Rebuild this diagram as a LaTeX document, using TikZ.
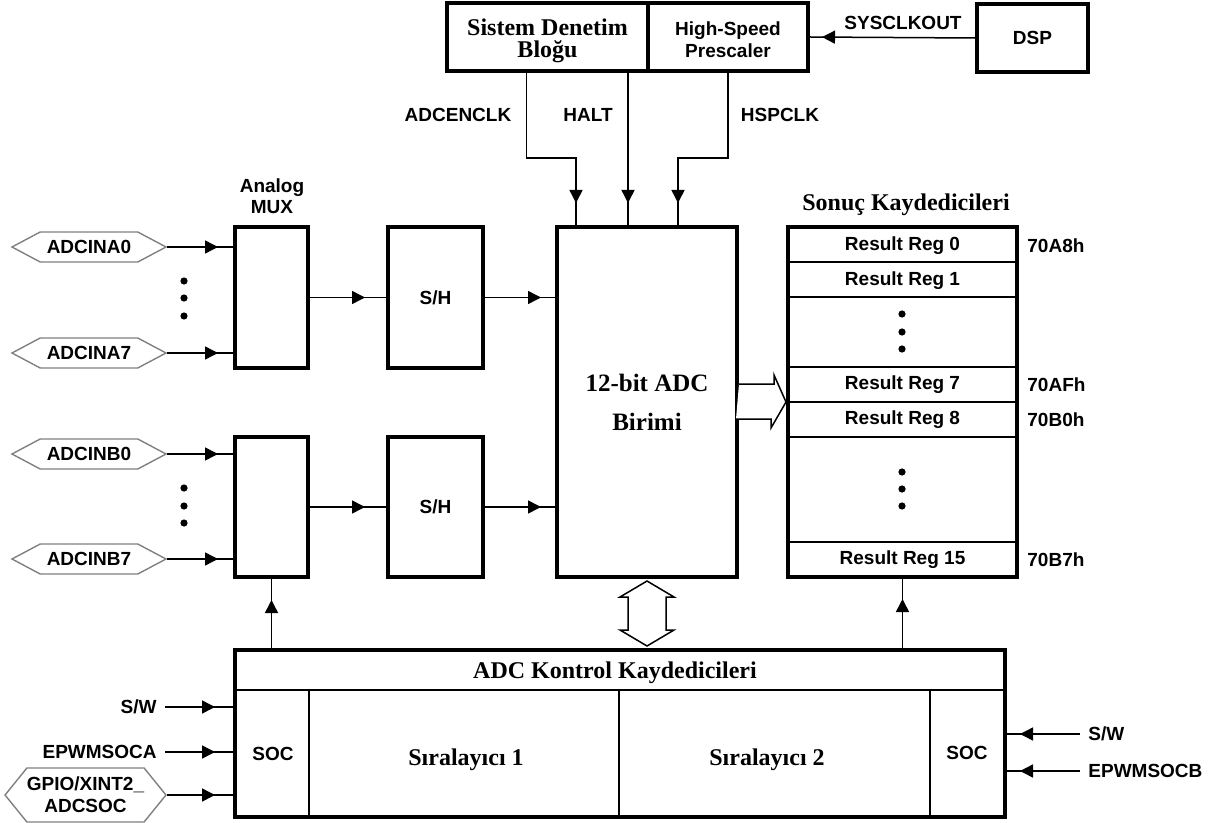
\documentclass[tikz,border=0pt]{standalone}
\usepackage{fontspec}
\setmainfont{Liberation Serif}
\setsansfont{Liberation Sans}
\usetikzlibrary{arrows.meta,positioning,calc,shapes.symbols,decorations.markings}

\begin{document}
\begin{tikzpicture}[x=0.5pt,y=-0.5pt,
  font=\sffamily\bfseries\fontsize{9.5}{11}\selectfont,
  blk/.style={draw, line width=2pt, inner sep=0pt},
  ttl/.style={font=\rmfamily\bfseries\fontsize{12}{11}\selectfont, align=center},
  hexin/.style={draw=gray, line width=0.7pt, signal, signal to=west and east,
    signal pointer angle=56, minimum width=77pt, minimum height=15pt, inner sep=0pt},
  sig/.style={line width=0.75pt, postaction={decorate},
    decoration={markings, mark=at position -#1 with {\arrow{Triangle[length=6.5pt,width=6.5pt]}}}},
  sig/.default=7.5pt,
  hollow/.style={line width=0.75pt, fill=white, line join=miter},
  thinline/.style={line width=0.9pt}]
\useasboundingbox (0,0) rectangle (1219,823);

% top blocks
\node[blk, minimum width=100.5pt, minimum height=34pt] (sdb) at (547.5,37) {};
\node[ttl] (sdbtxt) at (547.5,41) {Sistem Denetim\\Bloğu};
\node[blk, minimum width=80pt, minimum height=34pt] (hsp) at (728,37) {};
\node[align=center] (hsptxt) at (728,40) {High-Speed\\Prescaler};
\node[blk, minimum width=55.5pt, minimum height=34pt] (dsp) at (1032.5,38) {DSP};
\draw[sig=6pt] (dsp.west) -- (hsp.east);
\node (sysclk) at (903,23) {SYSCLKOUT};

% main blocks
\node[blk, minimum width=36.5pt, minimum height=70.5pt] (muxa) at (271.5,297.5) {};
\node[align=center, font=\sffamily\bfseries\fontsize{9.5}{10.5}\selectfont] (muxlbl) at (272,196) {Analog\\MUX};
\node[blk, minimum width=47.5pt, minimum height=70.5pt] (sha) at (435.5,297.5) {S/H};
\node[blk, minimum width=36.5pt, minimum height=70pt] (muxb) at (271.5,507) {};
\node[blk, minimum width=47.5pt, minimum height=70pt] (shb) at (435.5,507) {S/H};
\node[blk, align=center, font=\rmfamily\bfseries\fontsize{12.5}{19.5}\selectfont,
  minimum width=90pt, minimum height=175pt] (adc) at (647,402) {12-bit ADC\\Birimi};
\node[blk, minimum width=114.5pt, minimum height=175pt] (res) at (902.5,402) {};
\node[ttl] (restitle) at (906,205) {Sonuç Kaydedicileri};

% clock / halt signals
\node (adcenclk) at (458,115) {ADCENCLK};
\node (halt) at (588,115) {HALT};
\node (hspclk) at (780,115) {HSPCLK};
\draw[sig=11pt] ($(sdb.south)+(-21,0)$) -- ++(0,85) -| ($(adc.north)+(-71,0)$);
\draw[sig=11pt] (sdb.south -| 628,0) -- (adc.north -| 628,0);
\draw[sig=11pt] (hsp.south) -- ++(0,85) -| ($(adc.north)+(31,0)$);

% analog inputs
\node[hexin] (ina0) at (89,247) {ADCINA0};
\node[hexin] (ina7) at (89,353) {ADCINA7};
\node[hexin] (inb0) at (89,454) {ADCINB0};
\node[hexin] (inb7) at (89,559) {ADCINB7};
\foreach \n in {ina0,ina7}
  \draw[sig] (\n.east) -- (\n.east -| muxa.west);
\foreach \n in {inb0,inb7}
  \draw[sig] (\n.east) -- (\n.east -| muxb.west);
\foreach \yy in {281,298,316,488,506,523}
  \fill (184,\yy) circle (1.8pt);

\draw[sig=10.5pt] (muxa.east) -- (sha.west);
\draw[sig=10.5pt] (muxb.east) -- (shb.west);
\draw[sig=7pt] (sha.east) -- (sha.east -| adc.west);
\draw[sig=7pt] (shb.east) -- (shb.east -| adc.west);

% result registers
\foreach \yy in {262,297,367,402,437,542}
  \draw[thinline] (res.west |- 0,\yy) -- (res.east |- 0,\yy);
\foreach \yy/\n in {246/0,281/1,385/7,420/8,560/15}
  \node (reg\n) at (902.5,\yy) {Result Reg \n};
\foreach \yy/\a/\n in {246/70A8h/0,385/70AFh/7,420/70B0h/8,560/70B7h/15}
  \node[anchor=west, inner sep=0pt] (adr\n) at (1027,\yy) {\a};
\foreach \yy in {314,332,349,472,489,506}
  \fill (902,\yy) circle (1.8pt);

% data bus arrows
\draw[hollow] ($(adc.east)+(0,-18)$) -- ++(35,0) -- ++(0,-9) -- (res.west)
  -- ++(-15,26) -- ++(0,-9) -- ++(-35,0);

% control registers
\node[blk, minimum width=385pt, minimum height=83.5pt] (ctl) at (620,733.5) {};
\draw[thinline] (ctl.west |- 0,690) -- (ctl.east |- 0,690);
\foreach \xx in {309,619,930}
  \draw[thinline] (\xx,690) -- (ctl.south -| \xx,0);
\node[ttl] (ctlhdr) at (615,673) {ADC Kontrol Kaydedicileri};
\node (soca) at (273,754) {SOC};
\node (socb) at (967,753) {SOC};
\node[ttl] (seq1) at (466,760) {Sıralayıcı 1};
\node[ttl] (seq2) at (767,760) {Sıralayıcı 2};

\path (adc.south) coordinate (bt) (adc.south |- ctl.north) coordinate (bb);
\draw[hollow] ($(bt)+(0,2)$) -- ++(27,16) -- ++(-8,0) -- ($(bb)+(19,-18)$) -- ++(8,0)
  -- ($(bb)+(0,-2)$) -- ++(-27,-16) -- ++(8,0) -- ($(bt)+(-19,18)$) -- ++(-8,0) -- cycle;

\draw[sig=10.5pt] (ctl.north -| muxb.south) -- (muxb.south);
\draw[sig=10pt] (ctl.north -| res.south) -- (res.south);

% start of conversion inputs
\node[anchor=east, inner sep=4pt] (swa) at (165,707) {S/W};
\node[anchor=east, inner sep=4pt] (epa) at (165,752) {EPWMSOCA};
\node[hexin, align=center, signal pointer angle=102, minimum width=78.5pt, minimum height=27pt]
  (gpio) at (85.5,795) {GPIO/XINT2\_\\ADCSOC};
\draw[sig=9pt] (swa.east) -- (swa.east -| ctl.west);
\draw[sig=9pt] (epa.east) -- (epa.east -| ctl.west);
\draw[sig=9pt] (gpio.east) -- (gpio.east -| ctl.west);
\node[anchor=west, inner sep=4pt] (swb) at (1080,734) {S/W};
\node[anchor=west, inner sep=4pt] (epb) at (1080,771) {EPWMSOCB};
\draw[sig=6.5pt] (swb.west) -- (swb.west -| ctl.east);
\draw[sig=6.5pt] (epb.west) -- (epb.west -| ctl.east);
\end{tikzpicture}
\end{document}
